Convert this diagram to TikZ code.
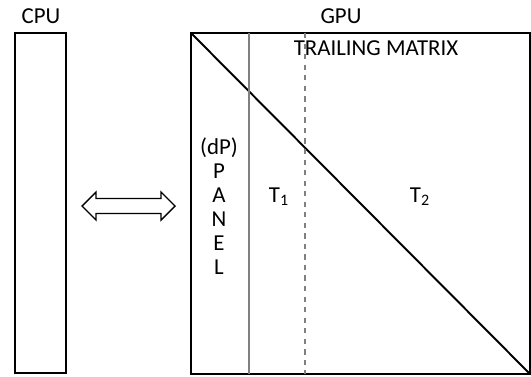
\documentclass[tikz,border=0pt]{standalone}
\usepackage{fontspec}
\setmainfont{Carlito}
\tikzset{box/.style = {draw, line width=1.1pt}, split/.style = {draw=gray, line width=0.8pt}}

\begin{document}
\begin{tikzpicture}[x=0.02cm, y=-0.02cm, font=\fontsize{13}{13.6}\selectfont]
\useasboundingbox (0,0) rectangle (531,376);
\coordinate (C1) at (15,33);
\coordinate (C2) at (66,373);
\coordinate (G1) at (191,33);
\coordinate (G2) at (530,374);
\draw [box] (C1) rectangle (C2);
\draw [box] (G1) rectangle (G2);
\draw [line width=1.1pt] (G1) -- (G2);
\draw [split] (249,33) -- (249,374);
\draw [split, dashed] (305,33) -- (305,374);
\node (cpu) at (41,16) {CPU};
\node (gpu) at (341,16) {GPU};
\node (trail) at (376,48) {TRAILING MATRIX};
\node (panel) at (219,206) [align=center, inner sep=0pt] {(dP)\\P\\A\\N\\E\\L};
\node (t1) at (279,197) {T\textsubscript{1}};
\node (t2) at (420,197) {T\textsubscript{2}};
% double arrow between CPU and GPU
\draw [line width=0.8pt, line join=miter] (82,206) -- (96,192) -- (96,198.5) -- (161,198.5) -- (161,192) -- (175,206)
  -- (161,220) -- (161,213.5) -- (96,213.5) -- (96,220) -- cycle;
\end{tikzpicture}
\end{document}
